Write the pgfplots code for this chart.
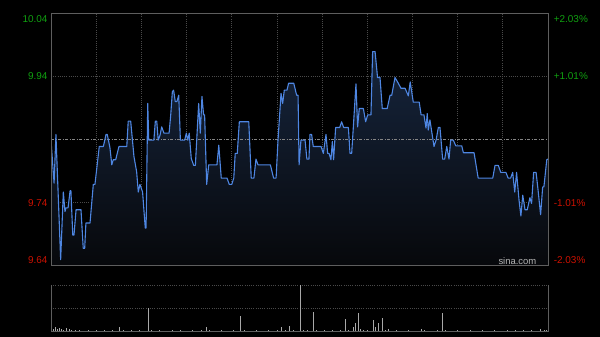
\documentclass[border=0pt]{standalone}
\usepackage{pgfplots}
\pgfplotsset{compat=1.18}
\usepackage{pgfplotstable}
\usepgfplotslibrary{fillbetween}
\usepackage{fontspec}
\setmainfont{Liberation Sans}
\definecolor{linecol}{HTML}{4E86E2}
\definecolor{filltop}{HTML}{16253D}
\definecolor{fillbot}{HTML}{07080B}
\definecolor{gridcol}{HTML}{4A4A4A}
\definecolor{refcol}{HTML}{858585}
\definecolor{bordercol}{HTML}{5E5E5E}
\definecolor{upg}{HTML}{10A010}
\definecolor{dnr}{HTML}{CC1100}
\definecolor{volcol}{HTML}{A8A8A8}
\definecolor{wm}{HTML}{B4B4B4}

\pgfplotstableread{
m p
0 9.839
1.5 9.771
2.4 9.848
4.7 9.650
6.0 9.757
6.8 9.726
7.3 9.732
8.3 9.732
9.3 9.759
9.7 9.759
10.6 9.689
11.2 9.689
12.2 9.729
14.6 9.729
15.7 9.668
16.4 9.668
17.0 9.708
19.0 9.708
20.6 9.769
21.4 9.769
23.5 9.829
25.5 9.829
26.8 9.848
27.4 9.848
28.7 9.827
29.6 9.800
30.3 9.808
31.5 9.808
33.1 9.829
36.9 9.829
37.6 9.869
38.8 9.869
40.4 9.813
41.7 9.789
42.5 9.757
43.3 9.769
44.6 9.757
45.3 9.726
45.9 9.700
46.3 9.700
47.1 9.897
47.6 9.839
50.1 9.839
50.8 9.869
51.5 9.869
52.2 9.839
53.1 9.847
53.9 9.860
55.0 9.850
57.5 9.850
58.3 9.879
59.1 9.916
59.7 9.918
60.5 9.900
61.3 9.900
62.2 9.910
63.0 9.839
65.1 9.839
65.9 9.850
66.6 9.839
67.3 9.850
68.3 9.810
69.5 9.799
70.3 9.799
71.9 9.897
72.7 9.850
73.5 9.908
74.3 9.879
74.8 9.879
75.8 9.769
76.8 9.800
80.8 9.800
81.7 9.831
82.9 9.779
85.7 9.779
86.8 9.769
88.0 9.769
89.0 9.779
89.7 9.818
90.7 9.818
91.7 9.868
96.3 9.868
97.5 9.779
98.8 9.779
99.8 9.809
100.8 9.800
106.8 9.800
108.4 9.779
109.6 9.779
110.5 9.837
112.0 9.913
112.8 9.897
113.6 9.918
114.9 9.918
115.7 9.929
118.2 9.929
119.6 9.910
120.3 9.910
120.8 9.800
121.7 9.839
123.7 9.839
124.6 9.809
125.6 9.809
126.1 9.848
126.9 9.848
127.7 9.829
131.5 9.829
132.6 9.818
133.9 9.848
134.7 9.818
135.4 9.818
136.3 9.808
137.0 9.837
137.6 9.808
138.6 9.859
140.6 9.859
141.5 9.868
142.5 9.859
144.8 9.859
145.6 9.818
146.4 9.818
147.2 9.859
148.5 9.928
149.3 9.860
150.1 9.889
152.1 9.889
153.2 9.868
154.2 9.879
155.8 9.879
156.6 9.979
157.8 9.979
159.0 9.938
160.2 9.938
161.3 9.889
163.7 9.889
165.1 9.910
165.9 9.910
167.5 9.938
169.1 9.929
170.4 9.921
172.4 9.921
174.0 9.909
174.9 9.931
176.4 9.899
179.3 9.899
180.2 9.879
181.6 9.879
182.6 9.858
183.2 9.881
183.7 9.855
184.5 9.871
185.4 9.852
186.5 9.829
187.5 9.839
188.6 9.859
189.4 9.859
190.7 9.809
191.7 9.809
192.7 9.829
193.8 9.809
194.6 9.839
195.9 9.839
197.1 9.830
200.0 9.830
200.8 9.819
206.0 9.819
208.0 9.779
215.1 9.779
216.2 9.799
217.8 9.799
219.0 9.788
221.5 9.788
222.6 9.779
223.8 9.779
224.8 9.788
225.8 9.757
226.7 9.788
227.9 9.744
228.8 9.719
229.7 9.752
230.8 9.729
231.9 9.729
233.2 9.748
234.0 9.739
235.0 9.788
236.2 9.788
237.1 9.762
238.4 9.721
239.4 9.765
240.0 9.765
241.4 9.808
242.0 9.809
}\price

\pgfplotstableread{
m v
0 8
1 6
2 9
3 5
4 7
5 6
6 4
7.6 7
9 5
10 3
12 4
14 3
16 2
18 3
20 2
22 3
24 2
26 4
28 2
30 3
32 2
33.3 11
35 3
37 2
39 3
41 2
43 3
45 2
47.4 50
49 3
51 2
53 3
55 2
57 2
59 3
61 2
63 3
65 2
67 2
69 3
71 2
73 3
75.8 9
77 3
79 2
81 2
83 3
85 2
87 2
89 3
92.2 34
94 3
96 2
98 2
100 3
102 2
104 2
106 3
108 2
110 3
112.3 11
114 3
115.9 13
118 3
120 2
121.2 100
123 3
125 3
127.7 43
129 3
131 2
133 3
135 2
137 3
139 2
141 3
143.3 27
145 3
147.2 9
148.2 19
149.6 39
150.4 6
152 3
154 3
156.9 25
157.9 9
159.4 18
161.5 29
163 3
164.2 6
166 2
168 3
170 2
172 2
174 3
176 2
178 2
180.5 6
182 3
184 2
186 2
188 3
190.7 41
192 3
194 2
196 2
198 3
200 2
202 2
204 3
206 2
208 2
210 3
212 2
214 2
216 3
218 2
220 2
222 3
224 2
226 3
228 2
230 3
232 2
234 3
236 2
238.4 5
240 3
241 4
242 3
}\volume

\newcommand\lab{\fontsize{10}{12}\selectfont}
\pagecolor{black}

\begin{document}
\begin{tikzpicture}
\path (0,0) rectangle (600bp,337bp);
\begin{axis}[
  at={(51bp,71bp)}, anchor=south west,
  scale only axis, width=497bp, height=253bp,
  xmin=0, xmax=242, ymin=9.64, ymax=10.04,
  xtick={0,22,...,242}, ytick={9.74,9.94},
  xticklabels=\empty, yticklabels=\empty,
  major tick length=0pt,
  grid=major,
  grid style={gridcol, dash pattern=on 1bp off 1.2bp, line width=0.8bp},
  axis line style={bordercol, line width=1bp},
  clip mode=individual,
]
\addplot[name path=price, draw=none, forget plot] table[x=m,y=p]{\price};
\path[name path=base] (axis cs:0,9.64) -- (axis cs:242,9.64);
\addplot[top color=filltop, bottom color=fillbot, draw=none, on layer=axis background] fill between[of=price and base];
\addplot[refcol, line width=0.8bp, dash pattern=on 3bp off 1.5bp on 1bp off 1.5bp] coordinates {(0,9.84) (242,9.84)};
\addplot[linecol, line width=1.1bp, line join=round] table[x=m,y=p]{\price};
\draw[bordercol, line width=1bp] (rel axis cs:0,0) rectangle (rel axis cs:1,1);
\node[anchor=east, inner sep=0pt, text=upg, font=\lab] at (rel axis cs:0,1) [xshift=-3.3bp, yshift=-5.7bp] {10.04};
\node[anchor=east, inner sep=0pt, text=upg, font=\lab] at (rel axis cs:0,0.75) [xshift=-3.3bp] {9.94};
\node[anchor=east, inner sep=0pt, text=dnr, font=\lab] at (rel axis cs:0,0.25) [xshift=-3.3bp] {9.74};
\node[anchor=east, inner sep=0pt, text=dnr, font=\lab] at (rel axis cs:0,0) [xshift=-3.3bp, yshift=6bp] {9.64};
\node[anchor=west, inner sep=0pt, text=upg, font=\lab] at (rel axis cs:1,1) [xshift=5.6bp, yshift=-5.7bp] {+2.03\%};
\node[anchor=west, inner sep=0pt, text=upg, font=\lab] at (rel axis cs:1,0.75) [xshift=5.6bp] {+1.01\%};
\node[anchor=west, inner sep=0pt, text=dnr, font=\lab] at (rel axis cs:1,0.25) [xshift=5.6bp] {-1.01\%};
\node[anchor=west, inner sep=0pt, text=dnr, font=\lab] at (rel axis cs:1,0) [xshift=5.6bp, yshift=6bp] {-2.03\%};
\node[anchor=east, inner sep=0pt, text=wm, font=\fontsize{9.5}{11}\selectfont] at (rel axis cs:0.977,0) [yshift=4.5bp] {sina.com};
\end{axis}
\begin{axis}[
  at={(51bp,5.3bp)}, anchor=south west,
  scale only axis, width=497bp, height=46.7bp,
  xmin=0, xmax=242, ymin=0, ymax=100,
  ticks=none,
  axis line style={draw=none},
  clip mode=individual,
]
\draw[gridcol, dash pattern=on 1bp off 1.2bp, line width=0.8bp] (rel axis cs:0,1) -- (rel axis cs:1,1);
\draw[gridcol, dash pattern=on 1bp off 1.2bp, line width=0.8bp] (rel axis cs:0,0.5) -- (rel axis cs:1,0.5);
\addplot[ycomb, volcol, line width=0.7bp, mark=none] table[x=m,y=v]{\volume};
\draw[bordercol, line width=1bp] (rel axis cs:0,1) -- (rel axis cs:0,0) -- (rel axis cs:1,0) -- (rel axis cs:1,1);
\end{axis}
\end{tikzpicture}
\end{document}
